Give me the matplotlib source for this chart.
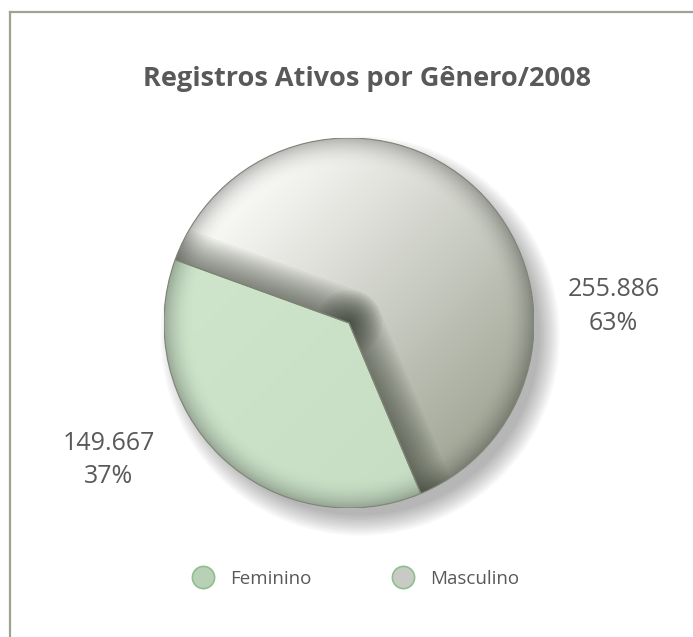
import numpy as np
import matplotlib
matplotlib.use("Agg")
import matplotlib.pyplot as plt
from matplotlib.lines import Line2D
from matplotlib.patches import Circle, Wedge

# data
categories = ["Feminino", "Masculino"]
values = [149667, 255886]
base_colors = ["#cce3cb", "#e6e7e3"]

plt.rcParams['font.family'] = ['Open Sans', 'DejaVu Sans']
text_color = "#595959"

fig = plt.figure(figsize=(6.93, 6.37), dpi=100)
W, H = 693, 637

# outer frame (only top and left edges visible)
fx, fy = 10 / W, 1 - 12 / H
fig.add_artist(Line2D([fx, 1], [fy, fy], color="#9ba590", lw=1.6))
fig.add_artist(Line2D([fx, fx], [0, fy], color="#9ba590", lw=1.6))

fig.text(367 / W, 1 - 79 / H, "Registros Ativos por Gênero/2008",
         ha="center", va="center", fontsize=19.5, fontweight="bold", color=text_color)

# pie axes: center (349,323) px, radius 185 px
cx, cy, r = 349, 323, 185
ax = fig.add_axes([(cx - r) / W, 1 - (cy + r) / H, 2 * r / W, 2 * r / H])
ax.set_axis_off()

# soft drop shadow behind pie, towards bottom right
for i in range(10):
    ax.add_patch(Circle((0.06, -0.07), 0.97 + 0.012 * i, color="k",
                        alpha=0.03, lw=0, zorder=0, clip_on=False))

wedges, _ = ax.pie(values, colors=base_colors, startangle=160,
                   wedgeprops=dict(lw=0))
for w in wedges:
    w.set_zorder(1)

# gradient fills clipped to each wedge
xx, yy = np.meshgrid(np.linspace(-1, 1, 300), np.linspace(1, -1, 300))
t = np.clip((xx - yy) / 2.6 + 0.5, 0, 1)[..., None]
rr = np.sqrt(xx ** 2 + yy ** 2)[..., None]
rim = np.clip((rr - 0.84) / 0.16, 0, 1) ** 2

light_m = np.array([0.98, 0.98, 0.97])
dark_m = np.array([0.64, 0.66, 0.60])
img_m = light_m * (1 - t) + dark_m * t
img_m = img_m * (1 - 0.25 * rim)
im = ax.imshow(img_m, extent=(-1, 1, -1, 1), zorder=2)
im.set_clip_path(wedges[1])

light_f = np.array([0.81, 0.90, 0.80])
dark_f = np.array([0.78, 0.87, 0.77])
img_f = light_f * (1 - t) + dark_f * t
img_f = img_f * (1 - 0.25 * rim)
im2 = ax.imshow(img_f, extent=(-1, 1, -1, 1), zorder=2)
im2.set_clip_path(wedges[0])

# inner shadow along the radial edges inside the Masculino slice
ang = [wedges[0].theta1, wedges[0].theta2]
for a in ang:
    ex, ey = np.cos(np.radians(a)), np.sin(np.radians(a))
    for k in range(14):
        ln, = ax.plot([0, ex], [0, ey], color="#2e3429",
                      lw=2 + 3.5 * k, alpha=0.05, solid_capstyle="round", zorder=3)
        ln.set_clip_path(wedges[1])

# outlines on top
for w in wedges:
    ax.add_patch(Wedge((0, 0), 1, w.theta1, w.theta2, fill=False,
                       lw=0.8, edgecolor="#7d8474", zorder=4))

ax.set_xlim(-1, 1)
ax.set_ylim(-1, 1)

# data labels
total = sum(values)
label_pos = [(-1.30, -0.74), (1.43, 0.09)]
for v, (lx, ly) in zip(values, label_pos):
    txt = f"{v:,}".replace(",", ".") + "\n" + f"{round(v / total * 100)}%"
    ax.text(lx, ly, txt, ha="center", va="center", fontsize=18,
            color=text_color, linespacing=1.45, clip_on=False)

# legend
handles = [Line2D([], [], marker="o", ls="", markersize=16,
                  markerfacecolor=c, markeredgecolor="#8cc08c", markeredgewidth=1.2)
           for c in ["#b8d0b6", "#c9cac5"]]
fig.legend(handles, categories, loc="center", bbox_to_anchor=(352 / W, 1 - 579 / H),
           ncol=2, frameon=False, fontsize=13.5, labelcolor=text_color,
           columnspacing=3.9, handletextpad=0.45)

fig.savefig("out.png", dpi=100, facecolor="white")
